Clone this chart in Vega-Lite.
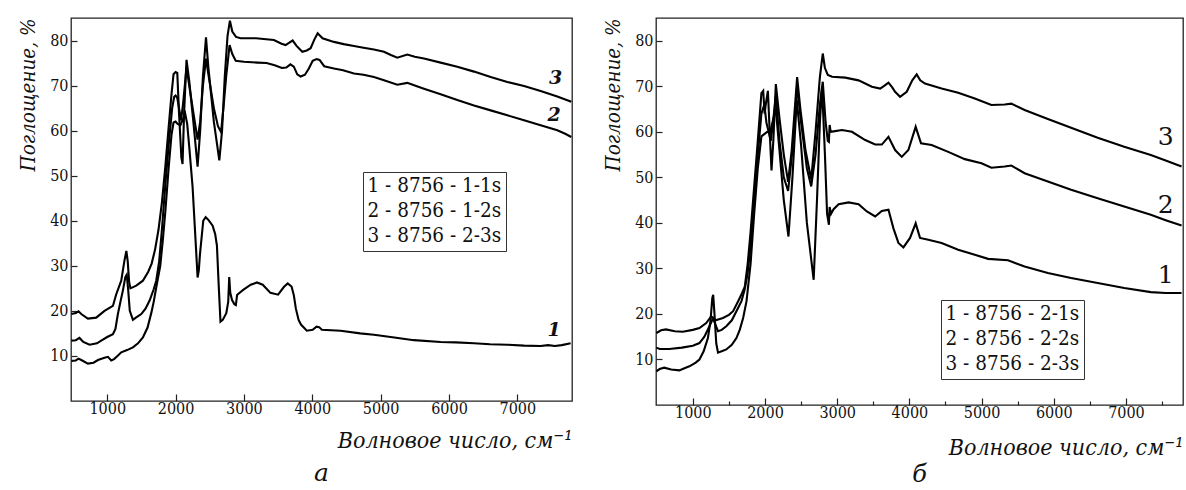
{
  "$schema": "https://vega.github.io/schema/vega-lite/v6.json",
  "background": "white",
  "padding": {"left": 18, "top": 17, "right": 0, "bottom": 0},
  "spacing": 30,
  "resolve": {"scale": {"color": "independent"}, "legend": {"color": "independent"}},
  "config": {
    "font": "DejaVu Serif Condensed",
    "view": {"stroke": "#222", "strokeWidth": 1.3},
    "axis": {"labelFont": "DejaVu Serif Condensed", "labelFontSize": 16, "labelColor": "#111", "titleFont": "DejaVu Serif Condensed", "titleFontSize": 23, "titleFontStyle": "italic", "titleFontWeight": "normal", "titleColor": "#111", "grid": false, "domain": false, "tickColor": "#222", "tickWidth": 1.2, "labelOverlap": false},
    "legend": {"labelFont": "DejaVu Serif Condensed", "labelFontSize": 20.5, "labelColor": "#111", "symbolType": "circle", "symbolSize": 0, "symbolOpacity": 0, "symbolStrokeWidth": 0, "labelOffset": -20, "padding": 4, "rowPadding": 4, "strokeColor": "#333", "fillColor": "white", "labelLimit": 0, "title": null}
  },
  "datasets": {
    "a": [
      {"x":475,"y":8.9,"s":"1 - 8756 - 1-1s"},{"x":540,"y":9.0,"s":"1 - 8756 - 1-1s"},{"x":580,"y":9.4,"s":"1 - 8756 - 1-1s"},{"x":620,"y":9.1,"s":"1 - 8756 - 1-1s"},{"x":717,"y":8.3,"s":"1 - 8756 - 1-1s"},{"x":800,"y":8.5,"s":"1 - 8756 - 1-1s"},{"x":864,"y":9.1,"s":"1 - 8756 - 1-1s"},{"x":960,"y":9.6,"s":"1 - 8756 - 1-1s"},{"x":1010,"y":9.8,"s":"1 - 8756 - 1-1s"},{"x":1059,"y":9.0,"s":"1 - 8756 - 1-1s"},{"x":1100,"y":9.3,"s":"1 - 8756 - 1-1s"},{"x":1150,"y":10.0,"s":"1 - 8756 - 1-1s"},{"x":1205,"y":10.8,"s":"1 - 8756 - 1-1s"},{"x":1290,"y":11.3,"s":"1 - 8756 - 1-1s"},{"x":1376,"y":11.9,"s":"1 - 8756 - 1-1s"},{"x":1450,"y":12.8,"s":"1 - 8756 - 1-1s"},{"x":1522,"y":14.1,"s":"1 - 8756 - 1-1s"},{"x":1590,"y":16.3,"s":"1 - 8756 - 1-1s"},{"x":1644,"y":19.5,"s":"1 - 8756 - 1-1s"},{"x":1680,"y":22,"s":"1 - 8756 - 1-1s"},{"x":1717,"y":25.2,"s":"1 - 8756 - 1-1s"},{"x":1776,"y":30,"s":"1 - 8756 - 1-1s"},{"x":1815,"y":36,"s":"1 - 8756 - 1-1s"},{"x":1850,"y":42,"s":"1 - 8756 - 1-1s"},{"x":1900,"y":52,"s":"1 - 8756 - 1-1s"},{"x":1940,"y":59,"s":"1 - 8756 - 1-1s"},{"x":1970,"y":61.8,"s":"1 - 8756 - 1-1s"},{"x":2000,"y":62,"s":"1 - 8756 - 1-1s"},{"x":2030,"y":61.5,"s":"1 - 8756 - 1-1s"},{"x":2070,"y":61.2,"s":"1 - 8756 - 1-1s"},{"x":2100,"y":62.3,"s":"1 - 8756 - 1-1s"},{"x":2140,"y":63.8,"s":"1 - 8756 - 1-1s"},{"x":2170,"y":61.5,"s":"1 - 8756 - 1-1s"},{"x":2200,"y":56.4,"s":"1 - 8756 - 1-1s"},{"x":2249,"y":47.5,"s":"1 - 8756 - 1-1s"},{"x":2298,"y":34.1,"s":"1 - 8756 - 1-1s"},{"x":2322,"y":27.4,"s":"1 - 8756 - 1-1s"},{"x":2340,"y":29,"s":"1 - 8756 - 1-1s"},{"x":2357,"y":32.6,"s":"1 - 8756 - 1-1s"},{"x":2405,"y":40,"s":"1 - 8756 - 1-1s"},{"x":2440,"y":40.8,"s":"1 - 8756 - 1-1s"},{"x":2480,"y":40.2,"s":"1 - 8756 - 1-1s"},{"x":2542,"y":38.9,"s":"1 - 8756 - 1-1s"},{"x":2580,"y":37,"s":"1 - 8756 - 1-1s"},{"x":2605,"y":34.5,"s":"1 - 8756 - 1-1s"},{"x":2630,"y":26,"s":"1 - 8756 - 1-1s"},{"x":2657,"y":17.6,"s":"1 - 8756 - 1-1s"},{"x":2690,"y":18,"s":"1 - 8756 - 1-1s"},{"x":2742,"y":19.5,"s":"1 - 8756 - 1-1s"},{"x":2770,"y":22,"s":"1 - 8756 - 1-1s"},{"x":2785,"y":27.5,"s":"1 - 8756 - 1-1s"},{"x":2800,"y":24,"s":"1 - 8756 - 1-1s"},{"x":2826,"y":22.4,"s":"1 - 8756 - 1-1s"},{"x":2860,"y":21.5,"s":"1 - 8756 - 1-1s"},{"x":2882,"y":21.3,"s":"1 - 8756 - 1-1s"},{"x":2900,"y":23.5,"s":"1 - 8756 - 1-1s"},{"x":2920,"y":23.8,"s":"1 - 8756 - 1-1s"},{"x":2994,"y":24.7,"s":"1 - 8756 - 1-1s"},{"x":3100,"y":25.8,"s":"1 - 8756 - 1-1s"},{"x":3190,"y":26.3,"s":"1 - 8756 - 1-1s"},{"x":3275,"y":25.8,"s":"1 - 8756 - 1-1s"},{"x":3388,"y":24,"s":"1 - 8756 - 1-1s"},{"x":3500,"y":23.6,"s":"1 - 8756 - 1-1s"},{"x":3584,"y":25.3,"s":"1 - 8756 - 1-1s"},{"x":3640,"y":26.1,"s":"1 - 8756 - 1-1s"},{"x":3697,"y":25.4,"s":"1 - 8756 - 1-1s"},{"x":3730,"y":23.5,"s":"1 - 8756 - 1-1s"},{"x":3760,"y":20.5,"s":"1 - 8756 - 1-1s"},{"x":3800,"y":18,"s":"1 - 8756 - 1-1s"},{"x":3837,"y":16.9,"s":"1 - 8756 - 1-1s"},{"x":3921,"y":15.6,"s":"1 - 8756 - 1-1s"},{"x":4006,"y":15.8,"s":"1 - 8756 - 1-1s"},{"x":4062,"y":16.5,"s":"1 - 8756 - 1-1s"},{"x":4100,"y":16.4,"s":"1 - 8756 - 1-1s"},{"x":4140,"y":15.8,"s":"1 - 8756 - 1-1s"},{"x":4415,"y":15.6,"s":"1 - 8756 - 1-1s"},{"x":4700,"y":15.0,"s":"1 - 8756 - 1-1s"},{"x":4902,"y":14.7,"s":"1 - 8756 - 1-1s"},{"x":5200,"y":14.1,"s":"1 - 8756 - 1-1s"},{"x":5488,"y":13.5,"s":"1 - 8756 - 1-1s"},{"x":5878,"y":13.1,"s":"1 - 8756 - 1-1s"},{"x":6100,"y":13.0,"s":"1 - 8756 - 1-1s"},{"x":6366,"y":12.8,"s":"1 - 8756 - 1-1s"},{"x":6600,"y":12.6,"s":"1 - 8756 - 1-1s"},{"x":6854,"y":12.5,"s":"1 - 8756 - 1-1s"},{"x":7100,"y":12.3,"s":"1 - 8756 - 1-1s"},{"x":7341,"y":12.2,"s":"1 - 8756 - 1-1s"},{"x":7450,"y":12.4,"s":"1 - 8756 - 1-1s"},{"x":7550,"y":12.2,"s":"1 - 8756 - 1-1s"},{"x":7650,"y":12.4,"s":"1 - 8756 - 1-1s"},{"x":7780,"y":12.8,"s":"1 - 8756 - 1-1s"},

      {"x":475,"y":13.4,"s":"2 - 8756 - 1-2s"},{"x":540,"y":13.5,"s":"2 - 8756 - 1-2s"},{"x":594,"y":14.0,"s":"2 - 8756 - 1-2s"},{"x":650,"y":13.1,"s":"2 - 8756 - 1-2s"},{"x":741,"y":12.5,"s":"2 - 8756 - 1-2s"},{"x":850,"y":12.8,"s":"2 - 8756 - 1-2s"},{"x":912,"y":13.4,"s":"2 - 8756 - 1-2s"},{"x":1000,"y":14.2,"s":"2 - 8756 - 1-2s"},{"x":1083,"y":14.8,"s":"2 - 8756 - 1-2s"},{"x":1120,"y":16,"s":"2 - 8756 - 1-2s"},{"x":1156,"y":19.3,"s":"2 - 8756 - 1-2s"},{"x":1200,"y":22.5,"s":"2 - 8756 - 1-2s"},{"x":1229,"y":24.5,"s":"2 - 8756 - 1-2s"},{"x":1265,"y":27.5,"s":"2 - 8756 - 1-2s"},{"x":1285,"y":28,"s":"2 - 8756 - 1-2s"},{"x":1305,"y":25,"s":"2 - 8756 - 1-2s"},{"x":1330,"y":20,"s":"2 - 8756 - 1-2s"},{"x":1376,"y":18,"s":"2 - 8756 - 1-2s"},{"x":1430,"y":18.6,"s":"2 - 8756 - 1-2s"},{"x":1498,"y":19.3,"s":"2 - 8756 - 1-2s"},{"x":1560,"y":20.5,"s":"2 - 8756 - 1-2s"},{"x":1620,"y":22.3,"s":"2 - 8756 - 1-2s"},{"x":1680,"y":24.8,"s":"2 - 8756 - 1-2s"},{"x":1717,"y":26.7,"s":"2 - 8756 - 1-2s"},{"x":1760,"y":31,"s":"2 - 8756 - 1-2s"},{"x":1800,"y":38,"s":"2 - 8756 - 1-2s"},{"x":1850,"y":48,"s":"2 - 8756 - 1-2s"},{"x":1900,"y":57,"s":"2 - 8756 - 1-2s"},{"x":1950,"y":65,"s":"2 - 8756 - 1-2s"},{"x":1980,"y":67.5,"s":"2 - 8756 - 1-2s"},{"x":2000,"y":67.8,"s":"2 - 8756 - 1-2s"},{"x":2025,"y":67.3,"s":"2 - 8756 - 1-2s"},{"x":2050,"y":65,"s":"2 - 8756 - 1-2s"},{"x":2080,"y":62.3,"s":"2 - 8756 - 1-2s"},{"x":2110,"y":66,"s":"2 - 8756 - 1-2s"},{"x":2160,"y":74,"s":"2 - 8756 - 1-2s"},{"x":2200,"y":70,"s":"2 - 8756 - 1-2s"},{"x":2260,"y":64,"s":"2 - 8756 - 1-2s"},{"x":2322,"y":58,"s":"2 - 8756 - 1-2s"},{"x":2360,"y":62,"s":"2 - 8756 - 1-2s"},{"x":2400,"y":70,"s":"2 - 8756 - 1-2s"},{"x":2445,"y":76,"s":"2 - 8756 - 1-2s"},{"x":2480,"y":72.5,"s":"2 - 8756 - 1-2s"},{"x":2560,"y":65,"s":"2 - 8756 - 1-2s"},{"x":2620,"y":61,"s":"2 - 8756 - 1-2s"},{"x":2665,"y":59.7,"s":"2 - 8756 - 1-2s"},{"x":2700,"y":65,"s":"2 - 8756 - 1-2s"},{"x":2740,"y":72,"s":"2 - 8756 - 1-2s"},{"x":2790,"y":79,"s":"2 - 8756 - 1-2s"},{"x":2830,"y":77,"s":"2 - 8756 - 1-2s"},{"x":2880,"y":75.5,"s":"2 - 8756 - 1-2s"},{"x":3000,"y":75.3,"s":"2 - 8756 - 1-2s"},{"x":3200,"y":75.1,"s":"2 - 8756 - 1-2s"},{"x":3331,"y":75,"s":"2 - 8756 - 1-2s"},{"x":3450,"y":74.5,"s":"2 - 8756 - 1-2s"},{"x":3556,"y":73.9,"s":"2 - 8756 - 1-2s"},{"x":3620,"y":74.0,"s":"2 - 8756 - 1-2s"},{"x":3680,"y":74.7,"s":"2 - 8756 - 1-2s"},{"x":3730,"y":74.2,"s":"2 - 8756 - 1-2s"},{"x":3780,"y":72.5,"s":"2 - 8756 - 1-2s"},{"x":3830,"y":72,"s":"2 - 8756 - 1-2s"},{"x":3893,"y":72.4,"s":"2 - 8756 - 1-2s"},{"x":3950,"y":73.8,"s":"2 - 8756 - 1-2s"},{"x":4006,"y":75.5,"s":"2 - 8756 - 1-2s"},{"x":4062,"y":75.9,"s":"2 - 8756 - 1-2s"},{"x":4107,"y":75.7,"s":"2 - 8756 - 1-2s"},{"x":4174,"y":74.3,"s":"2 - 8756 - 1-2s"},{"x":4317,"y":73.8,"s":"2 - 8756 - 1-2s"},{"x":4450,"y":73.4,"s":"2 - 8756 - 1-2s"},{"x":4610,"y":72.7,"s":"2 - 8756 - 1-2s"},{"x":4750,"y":72.4,"s":"2 - 8756 - 1-2s"},{"x":4902,"y":71.9,"s":"2 - 8756 - 1-2s"},{"x":5049,"y":71.2,"s":"2 - 8756 - 1-2s"},{"x":5244,"y":70.2,"s":"2 - 8756 - 1-2s"},{"x":5390,"y":70.6,"s":"2 - 8756 - 1-2s"},{"x":5500,"y":70,"s":"2 - 8756 - 1-2s"},{"x":5634,"y":69.3,"s":"2 - 8756 - 1-2s"},{"x":5878,"y":68.1,"s":"2 - 8756 - 1-2s"},{"x":6122,"y":66.8,"s":"2 - 8756 - 1-2s"},{"x":6366,"y":65.6,"s":"2 - 8756 - 1-2s"},{"x":6610,"y":64.5,"s":"2 - 8756 - 1-2s"},{"x":6854,"y":63.4,"s":"2 - 8756 - 1-2s"},{"x":7098,"y":62.3,"s":"2 - 8756 - 1-2s"},{"x":7341,"y":61.2,"s":"2 - 8756 - 1-2s"},{"x":7585,"y":60.1,"s":"2 - 8756 - 1-2s"},{"x":7700,"y":59.3,"s":"2 - 8756 - 1-2s"},{"x":7790,"y":58.6,"s":"2 - 8756 - 1-2s"},

      {"x":475,"y":19.3,"s":"3 - 8756 - 2-3s"},{"x":540,"y":19.5,"s":"3 - 8756 - 2-3s"},{"x":580,"y":19.9,"s":"3 - 8756 - 2-3s"},{"x":620,"y":19.3,"s":"3 - 8756 - 2-3s"},{"x":717,"y":18.3,"s":"3 - 8756 - 2-3s"},{"x":839,"y":18.5,"s":"3 - 8756 - 2-3s"},{"x":960,"y":20,"s":"3 - 8756 - 2-3s"},{"x":1083,"y":21.1,"s":"3 - 8756 - 2-3s"},{"x":1132,"y":23.7,"s":"3 - 8756 - 2-3s"},{"x":1205,"y":26.7,"s":"3 - 8756 - 2-3s"},{"x":1250,"y":31,"s":"3 - 8756 - 2-3s"},{"x":1280,"y":33.3,"s":"3 - 8756 - 2-3s"},{"x":1300,"y":31,"s":"3 - 8756 - 2-3s"},{"x":1320,"y":26.5,"s":"3 - 8756 - 2-3s"},{"x":1340,"y":25,"s":"3 - 8756 - 2-3s"},{"x":1425,"y":25.6,"s":"3 - 8756 - 2-3s"},{"x":1522,"y":26.7,"s":"3 - 8756 - 2-3s"},{"x":1600,"y":28.7,"s":"3 - 8756 - 2-3s"},{"x":1650,"y":30.5,"s":"3 - 8756 - 2-3s"},{"x":1700,"y":33.6,"s":"3 - 8756 - 2-3s"},{"x":1750,"y":38,"s":"3 - 8756 - 2-3s"},{"x":1800,"y":44,"s":"3 - 8756 - 2-3s"},{"x":1850,"y":52,"s":"3 - 8756 - 2-3s"},{"x":1900,"y":61,"s":"3 - 8756 - 2-3s"},{"x":1940,"y":68,"s":"3 - 8756 - 2-3s"},{"x":1970,"y":72.5,"s":"3 - 8756 - 2-3s"},{"x":2000,"y":73,"s":"3 - 8756 - 2-3s"},{"x":2025,"y":72.8,"s":"3 - 8756 - 2-3s"},{"x":2050,"y":64,"s":"3 - 8756 - 2-3s"},{"x":2085,"y":54,"s":"3 - 8756 - 2-3s"},{"x":2102,"y":52.6,"s":"3 - 8756 - 2-3s"},{"x":2125,"y":64,"s":"3 - 8756 - 2-3s"},{"x":2160,"y":75.7,"s":"3 - 8756 - 2-3s"},{"x":2200,"y":71,"s":"3 - 8756 - 2-3s"},{"x":2260,"y":62,"s":"3 - 8756 - 2-3s"},{"x":2322,"y":52,"s":"3 - 8756 - 2-3s"},{"x":2360,"y":60,"s":"3 - 8756 - 2-3s"},{"x":2400,"y":72,"s":"3 - 8756 - 2-3s"},{"x":2445,"y":80.7,"s":"3 - 8756 - 2-3s"},{"x":2480,"y":74,"s":"3 - 8756 - 2-3s"},{"x":2560,"y":62,"s":"3 - 8756 - 2-3s"},{"x":2640,"y":53.4,"s":"3 - 8756 - 2-3s"},{"x":2680,"y":60,"s":"3 - 8756 - 2-3s"},{"x":2720,"y":72,"s":"3 - 8756 - 2-3s"},{"x":2760,"y":81,"s":"3 - 8756 - 2-3s"},{"x":2795,"y":84.4,"s":"3 - 8756 - 2-3s"},{"x":2830,"y":82,"s":"3 - 8756 - 2-3s"},{"x":2884,"y":80.8,"s":"3 - 8756 - 2-3s"},{"x":2951,"y":80.5,"s":"3 - 8756 - 2-3s"},{"x":3177,"y":80.5,"s":"3 - 8756 - 2-3s"},{"x":3439,"y":80.1,"s":"3 - 8756 - 2-3s"},{"x":3550,"y":79.3,"s":"3 - 8756 - 2-3s"},{"x":3610,"y":79,"s":"3 - 8756 - 2-3s"},{"x":3670,"y":79.6,"s":"3 - 8756 - 2-3s"},{"x":3713,"y":80,"s":"3 - 8756 - 2-3s"},{"x":3770,"y":78.8,"s":"3 - 8756 - 2-3s"},{"x":3854,"y":77.5,"s":"3 - 8756 - 2-3s"},{"x":3920,"y":77.8,"s":"3 - 8756 - 2-3s"},{"x":3976,"y":78.3,"s":"3 - 8756 - 2-3s"},{"x":4030,"y":80.2,"s":"3 - 8756 - 2-3s"},{"x":4079,"y":81.6,"s":"3 - 8756 - 2-3s"},{"x":4150,"y":80.5,"s":"3 - 8756 - 2-3s"},{"x":4317,"y":79.7,"s":"3 - 8756 - 2-3s"},{"x":4460,"y":79.2,"s":"3 - 8756 - 2-3s"},{"x":4610,"y":78.8,"s":"3 - 8756 - 2-3s"},{"x":4750,"y":78.4,"s":"3 - 8756 - 2-3s"},{"x":4902,"y":78,"s":"3 - 8756 - 2-3s"},{"x":5049,"y":77.5,"s":"3 - 8756 - 2-3s"},{"x":5150,"y":76.8,"s":"3 - 8756 - 2-3s"},{"x":5244,"y":76.2,"s":"3 - 8756 - 2-3s"},{"x":5390,"y":76.9,"s":"3 - 8756 - 2-3s"},{"x":5500,"y":76.4,"s":"3 - 8756 - 2-3s"},{"x":5634,"y":76,"s":"3 - 8756 - 2-3s"},{"x":5878,"y":75.1,"s":"3 - 8756 - 2-3s"},{"x":6122,"y":74.2,"s":"3 - 8756 - 2-3s"},{"x":6366,"y":73.1,"s":"3 - 8756 - 2-3s"},{"x":6610,"y":71.9,"s":"3 - 8756 - 2-3s"},{"x":6854,"y":70.8,"s":"3 - 8756 - 2-3s"},{"x":7098,"y":69.9,"s":"3 - 8756 - 2-3s"},{"x":7341,"y":68.8,"s":"3 - 8756 - 2-3s"},{"x":7585,"y":67.6,"s":"3 - 8756 - 2-3s"},{"x":7790,"y":66.4,"s":"3 - 8756 - 2-3s"}
    ],
    "b": [
      {"x":495,"y":7.4,"s":"1 - 8756 - 2-1s"},{"x":540,"y":7.9,"s":"1 - 8756 - 2-1s"},{"x":604,"y":8.2,"s":"1 - 8756 - 2-1s"},{"x":700,"y":7.8,"s":"1 - 8756 - 2-1s"},{"x":813,"y":7.6,"s":"1 - 8756 - 2-1s"},{"x":900,"y":8.2,"s":"1 - 8756 - 2-1s"},{"x":953,"y":8.5,"s":"1 - 8756 - 2-1s"},{"x":1040,"y":9.3,"s":"1 - 8756 - 2-1s"},{"x":1092,"y":10,"s":"1 - 8756 - 2-1s"},{"x":1150,"y":11.8,"s":"1 - 8756 - 2-1s"},{"x":1209,"y":14.7,"s":"1 - 8756 - 2-1s"},{"x":1245,"y":18.5,"s":"1 - 8756 - 2-1s"},{"x":1270,"y":23.5,"s":"1 - 8756 - 2-1s"},{"x":1282,"y":24.2,"s":"1 - 8756 - 2-1s"},{"x":1300,"y":20,"s":"1 - 8756 - 2-1s"},{"x":1325,"y":13.5,"s":"1 - 8756 - 2-1s"},{"x":1349,"y":11.5,"s":"1 - 8756 - 2-1s"},{"x":1400,"y":11.8,"s":"1 - 8756 - 2-1s"},{"x":1464,"y":12.2,"s":"1 - 8756 - 2-1s"},{"x":1540,"y":13.2,"s":"1 - 8756 - 2-1s"},{"x":1604,"y":14.7,"s":"1 - 8756 - 2-1s"},{"x":1650,"y":16.5,"s":"1 - 8756 - 2-1s"},{"x":1697,"y":19.1,"s":"1 - 8756 - 2-1s"},{"x":1744,"y":22.8,"s":"1 - 8756 - 2-1s"},{"x":1800,"y":31,"s":"1 - 8756 - 2-1s"},{"x":1850,"y":42,"s":"1 - 8756 - 2-1s"},{"x":1900,"y":52,"s":"1 - 8756 - 2-1s"},{"x":1950,"y":59,"s":"1 - 8756 - 2-1s"},{"x":1990,"y":59.5,"s":"1 - 8756 - 2-1s"},{"x":2030,"y":60,"s":"1 - 8756 - 2-1s"},{"x":2070,"y":59.8,"s":"1 - 8756 - 2-1s"},{"x":2110,"y":62.5,"s":"1 - 8756 - 2-1s"},{"x":2150,"y":65,"s":"1 - 8756 - 2-1s"},{"x":2200,"y":56,"s":"1 - 8756 - 2-1s"},{"x":2260,"y":45,"s":"1 - 8756 - 2-1s"},{"x":2325,"y":37,"s":"1 - 8756 - 2-1s"},{"x":2380,"y":50,"s":"1 - 8756 - 2-1s"},{"x":2440,"y":67,"s":"1 - 8756 - 2-1s"},{"x":2500,"y":57,"s":"1 - 8756 - 2-1s"},{"x":2580,"y":40,"s":"1 - 8756 - 2-1s"},{"x":2674,"y":27.5,"s":"1 - 8756 - 2-1s"},{"x":2720,"y":45,"s":"1 - 8756 - 2-1s"},{"x":2760,"y":62,"s":"1 - 8756 - 2-1s"},{"x":2790,"y":70,"s":"1 - 8756 - 2-1s"},{"x":2830,"y":55,"s":"1 - 8756 - 2-1s"},{"x":2860,"y":42,"s":"1 - 8756 - 2-1s"},{"x":2885,"y":39.6,"s":"1 - 8756 - 2-1s"},{"x":2895,"y":43.5,"s":"1 - 8756 - 2-1s"},{"x":2915,"y":42,"s":"1 - 8756 - 2-1s"},{"x":2950,"y":43,"s":"1 - 8756 - 2-1s"},{"x":3020,"y":44.1,"s":"1 - 8756 - 2-1s"},{"x":3158,"y":44.5,"s":"1 - 8756 - 2-1s"},{"x":3296,"y":44.1,"s":"1 - 8756 - 2-1s"},{"x":3411,"y":42.5,"s":"1 - 8756 - 2-1s"},{"x":3526,"y":41.4,"s":"1 - 8756 - 2-1s"},{"x":3618,"y":42.6,"s":"1 - 8756 - 2-1s"},{"x":3710,"y":42.9,"s":"1 - 8756 - 2-1s"},{"x":3779,"y":38.8,"s":"1 - 8756 - 2-1s"},{"x":3848,"y":35.6,"s":"1 - 8756 - 2-1s"},{"x":3917,"y":34.6,"s":"1 - 8756 - 2-1s"},{"x":4009,"y":36.7,"s":"1 - 8756 - 2-1s"},{"x":4087,"y":39.9,"s":"1 - 8756 - 2-1s"},{"x":4147,"y":36.7,"s":"1 - 8756 - 2-1s"},{"x":4262,"y":36.3,"s":"1 - 8756 - 2-1s"},{"x":4446,"y":35.6,"s":"1 - 8756 - 2-1s"},{"x":4676,"y":34.1,"s":"1 - 8756 - 2-1s"},{"x":4906,"y":33,"s":"1 - 8756 - 2-1s"},{"x":5090,"y":32.1,"s":"1 - 8756 - 2-1s"},{"x":5366,"y":31.8,"s":"1 - 8756 - 2-1s"},{"x":5596,"y":30.4,"s":"1 - 8756 - 2-1s"},{"x":5918,"y":29,"s":"1 - 8756 - 2-1s"},{"x":6240,"y":27.9,"s":"1 - 8756 - 2-1s"},{"x":6608,"y":26.8,"s":"1 - 8756 - 2-1s"},{"x":6976,"y":25.7,"s":"1 - 8756 - 2-1s"},{"x":7344,"y":24.8,"s":"1 - 8756 - 2-1s"},{"x":7550,"y":24.6,"s":"1 - 8756 - 2-1s"},{"x":7770,"y":24.6,"s":"1 - 8756 - 2-1s"},

      {"x":495,"y":12.6,"s":"2 - 8756 - 2-2s"},{"x":540,"y":12.3,"s":"2 - 8756 - 2-2s"},{"x":674,"y":12.3,"s":"2 - 8756 - 2-2s"},{"x":849,"y":12.6,"s":"2 - 8756 - 2-2s"},{"x":1000,"y":13,"s":"2 - 8756 - 2-2s"},{"x":1092,"y":13.6,"s":"2 - 8756 - 2-2s"},{"x":1160,"y":15,"s":"2 - 8756 - 2-2s"},{"x":1209,"y":16.6,"s":"2 - 8756 - 2-2s"},{"x":1250,"y":18,"s":"2 - 8756 - 2-2s"},{"x":1279,"y":19,"s":"2 - 8756 - 2-2s"},{"x":1300,"y":18.2,"s":"2 - 8756 - 2-2s"},{"x":1349,"y":16.2,"s":"2 - 8756 - 2-2s"},{"x":1400,"y":16.5,"s":"2 - 8756 - 2-2s"},{"x":1464,"y":17.3,"s":"2 - 8756 - 2-2s"},{"x":1540,"y":18.6,"s":"2 - 8756 - 2-2s"},{"x":1604,"y":20.6,"s":"2 - 8756 - 2-2s"},{"x":1674,"y":22.8,"s":"2 - 8756 - 2-2s"},{"x":1720,"y":25.5,"s":"2 - 8756 - 2-2s"},{"x":1760,"y":29,"s":"2 - 8756 - 2-2s"},{"x":1800,"y":35,"s":"2 - 8756 - 2-2s"},{"x":1850,"y":45,"s":"2 - 8756 - 2-2s"},{"x":1900,"y":55,"s":"2 - 8756 - 2-2s"},{"x":1950,"y":64,"s":"2 - 8756 - 2-2s"},{"x":1990,"y":66,"s":"2 - 8756 - 2-2s"},{"x":2020,"y":62,"s":"2 - 8756 - 2-2s"},{"x":2050,"y":60,"s":"2 - 8756 - 2-2s"},{"x":2080,"y":58,"s":"2 - 8756 - 2-2s"},{"x":2110,"y":62,"s":"2 - 8756 - 2-2s"},{"x":2150,"y":68,"s":"2 - 8756 - 2-2s"},{"x":2200,"y":58,"s":"2 - 8756 - 2-2s"},{"x":2260,"y":50,"s":"2 - 8756 - 2-2s"},{"x":2320,"y":47,"s":"2 - 8756 - 2-2s"},{"x":2380,"y":56,"s":"2 - 8756 - 2-2s"},{"x":2445,"y":70,"s":"2 - 8756 - 2-2s"},{"x":2500,"y":62,"s":"2 - 8756 - 2-2s"},{"x":2580,"y":52,"s":"2 - 8756 - 2-2s"},{"x":2640,"y":48,"s":"2 - 8756 - 2-2s"},{"x":2700,"y":55,"s":"2 - 8756 - 2-2s"},{"x":2760,"y":66,"s":"2 - 8756 - 2-2s"},{"x":2800,"y":71,"s":"2 - 8756 - 2-2s"},{"x":2840,"y":62,"s":"2 - 8756 - 2-2s"},{"x":2870,"y":58,"s":"2 - 8756 - 2-2s"},{"x":2885,"y":57.8,"s":"2 - 8756 - 2-2s"},{"x":2895,"y":61.5,"s":"2 - 8756 - 2-2s"},{"x":2910,"y":60,"s":"2 - 8756 - 2-2s"},{"x":2950,"y":60.1,"s":"2 - 8756 - 2-2s"},{"x":3066,"y":60.4,"s":"2 - 8756 - 2-2s"},{"x":3204,"y":60,"s":"2 - 8756 - 2-2s"},{"x":3388,"y":58.2,"s":"2 - 8756 - 2-2s"},{"x":3526,"y":57.2,"s":"2 - 8756 - 2-2s"},{"x":3618,"y":57.2,"s":"2 - 8756 - 2-2s"},{"x":3710,"y":58.9,"s":"2 - 8756 - 2-2s"},{"x":3802,"y":56,"s":"2 - 8756 - 2-2s"},{"x":3894,"y":54.5,"s":"2 - 8756 - 2-2s"},{"x":3986,"y":56,"s":"2 - 8756 - 2-2s"},{"x":4087,"y":61.1,"s":"2 - 8756 - 2-2s"},{"x":4161,"y":57.5,"s":"2 - 8756 - 2-2s"},{"x":4308,"y":57.1,"s":"2 - 8756 - 2-2s"},{"x":4538,"y":55.6,"s":"2 - 8756 - 2-2s"},{"x":4768,"y":54,"s":"2 - 8756 - 2-2s"},{"x":4998,"y":53.1,"s":"2 - 8756 - 2-2s"},{"x":5136,"y":52.1,"s":"2 - 8756 - 2-2s"},{"x":5320,"y":52.4,"s":"2 - 8756 - 2-2s"},{"x":5412,"y":52.6,"s":"2 - 8756 - 2-2s"},{"x":5596,"y":50.9,"s":"2 - 8756 - 2-2s"},{"x":5918,"y":49.1,"s":"2 - 8756 - 2-2s"},{"x":6240,"y":47.3,"s":"2 - 8756 - 2-2s"},{"x":6608,"y":45.4,"s":"2 - 8756 - 2-2s"},{"x":6976,"y":43.6,"s":"2 - 8756 - 2-2s"},{"x":7344,"y":41.8,"s":"2 - 8756 - 2-2s"},{"x":7550,"y":40.6,"s":"2 - 8756 - 2-2s"},{"x":7770,"y":39.4,"s":"2 - 8756 - 2-2s"},

      {"x":495,"y":15.8,"s":"3 - 8756 - 2-3s"},{"x":560,"y":16.4,"s":"3 - 8756 - 2-3s"},{"x":628,"y":16.6,"s":"3 - 8756 - 2-3s"},{"x":750,"y":16.2,"s":"3 - 8756 - 2-3s"},{"x":861,"y":16.1,"s":"3 - 8756 - 2-3s"},{"x":1000,"y":16.5,"s":"3 - 8756 - 2-3s"},{"x":1092,"y":16.9,"s":"3 - 8756 - 2-3s"},{"x":1186,"y":18,"s":"3 - 8756 - 2-3s"},{"x":1255,"y":19.5,"s":"3 - 8756 - 2-3s"},{"x":1315,"y":18.6,"s":"3 - 8756 - 2-3s"},{"x":1418,"y":19.1,"s":"3 - 8756 - 2-3s"},{"x":1500,"y":19.8,"s":"3 - 8756 - 2-3s"},{"x":1558,"y":20.6,"s":"3 - 8756 - 2-3s"},{"x":1628,"y":22.8,"s":"3 - 8756 - 2-3s"},{"x":1680,"y":24.5,"s":"3 - 8756 - 2-3s"},{"x":1720,"y":26,"s":"3 - 8756 - 2-3s"},{"x":1760,"y":31,"s":"3 - 8756 - 2-3s"},{"x":1800,"y":38,"s":"3 - 8756 - 2-3s"},{"x":1850,"y":48,"s":"3 - 8756 - 2-3s"},{"x":1900,"y":58,"s":"3 - 8756 - 2-3s"},{"x":1950,"y":68.5,"s":"3 - 8756 - 2-3s"},{"x":1975,"y":69,"s":"3 - 8756 - 2-3s"},{"x":1995,"y":64,"s":"3 - 8756 - 2-3s"},{"x":2010,"y":66,"s":"3 - 8756 - 2-3s"},{"x":2040,"y":69,"s":"3 - 8756 - 2-3s"},{"x":2065,"y":60,"s":"3 - 8756 - 2-3s"},{"x":2090,"y":51.5,"s":"3 - 8756 - 2-3s"},{"x":2115,"y":58,"s":"3 - 8756 - 2-3s"},{"x":2150,"y":70.5,"s":"3 - 8756 - 2-3s"},{"x":2200,"y":63,"s":"3 - 8756 - 2-3s"},{"x":2260,"y":55,"s":"3 - 8756 - 2-3s"},{"x":2320,"y":49,"s":"3 - 8756 - 2-3s"},{"x":2370,"y":56,"s":"3 - 8756 - 2-3s"},{"x":2445,"y":72,"s":"3 - 8756 - 2-3s"},{"x":2490,"y":65,"s":"3 - 8756 - 2-3s"},{"x":2560,"y":56,"s":"3 - 8756 - 2-3s"},{"x":2640,"y":49.5,"s":"3 - 8756 - 2-3s"},{"x":2700,"y":60,"s":"3 - 8756 - 2-3s"},{"x":2760,"y":72,"s":"3 - 8756 - 2-3s"},{"x":2800,"y":77.2,"s":"3 - 8756 - 2-3s"},{"x":2830,"y":74,"s":"3 - 8756 - 2-3s"},{"x":2870,"y":72.5,"s":"3 - 8756 - 2-3s"},{"x":2929,"y":72.1,"s":"3 - 8756 - 2-3s"},{"x":3112,"y":71.9,"s":"3 - 8756 - 2-3s"},{"x":3296,"y":71.3,"s":"3 - 8756 - 2-3s"},{"x":3480,"y":69.9,"s":"3 - 8756 - 2-3s"},{"x":3595,"y":69.5,"s":"3 - 8756 - 2-3s"},{"x":3660,"y":70.2,"s":"3 - 8756 - 2-3s"},{"x":3710,"y":70.8,"s":"3 - 8756 - 2-3s"},{"x":3760,"y":69.8,"s":"3 - 8756 - 2-3s"},{"x":3802,"y":68.8,"s":"3 - 8756 - 2-3s"},{"x":3871,"y":67.7,"s":"3 - 8756 - 2-3s"},{"x":3963,"y":68.8,"s":"3 - 8756 - 2-3s"},{"x":4040,"y":71.3,"s":"3 - 8756 - 2-3s"},{"x":4101,"y":72.6,"s":"3 - 8756 - 2-3s"},{"x":4150,"y":71.3,"s":"3 - 8756 - 2-3s"},{"x":4216,"y":70.6,"s":"3 - 8756 - 2-3s"},{"x":4446,"y":69.5,"s":"3 - 8756 - 2-3s"},{"x":4676,"y":68.6,"s":"3 - 8756 - 2-3s"},{"x":4906,"y":67.3,"s":"3 - 8756 - 2-3s"},{"x":5136,"y":65.9,"s":"3 - 8756 - 2-3s"},{"x":5320,"y":66,"s":"3 - 8756 - 2-3s"},{"x":5412,"y":66.2,"s":"3 - 8756 - 2-3s"},{"x":5596,"y":64.8,"s":"3 - 8756 - 2-3s"},{"x":5918,"y":62.8,"s":"3 - 8756 - 2-3s"},{"x":6240,"y":60.9,"s":"3 - 8756 - 2-3s"},{"x":6608,"y":58.7,"s":"3 - 8756 - 2-3s"},{"x":6976,"y":56.7,"s":"3 - 8756 - 2-3s"},{"x":7344,"y":54.9,"s":"3 - 8756 - 2-3s"},{"x":7550,"y":53.7,"s":"3 - 8756 - 2-3s"},{"x":7770,"y":52.4,"s":"3 - 8756 - 2-3s"}
    ],
    "la": [{"x":7560,"y":71.6,"t":"3"},{"x":7540,"y":63.4,"t":"2"},{"x":7540,"y":15.8,"t":"1"}],
    "lb": [{"x":7550,"y":58.9,"t":"3"},{"x":7550,"y":44,"t":"2"},{"x":7550,"y":28.5,"t":"1"}]
  },
  "hconcat": [
    {
      "width": 501,
      "height": 383,
      "title": {"text": "а", "orient": "bottom", "anchor": "middle", "font": "DejaVu Serif", "fontSize": 25, "fontStyle": "italic", "fontWeight": "normal", "color": "#111", "offset": 9},
      "layer": [
        {
          "data": {"name": "a"},
          "mark": {"type": "line", "strokeWidth": 2.1, "clip": true},
          "encoding": {
            "x": {"field": "x", "type": "quantitative", "scale": {"domain": [470, 7800], "nice": false, "zero": false},
              "axis": {"values": [1000,1500,2000,2500,3000,3500,4000,4500,5000,5500,6000,6500,7000,7500], "format": "d", "labelExpr": "datum.value % 1000 === 0 ? datum.label : ''", "labelOverlap": false, "tickSize": {"condition": {"test": "datum.value % 1000 === 0", "value": -7}, "value": -4}, "labelPadding": 6, "labelFlush": false, "title": "Волновое число, см⁻¹", "titleAnchor": "end", "titlePadding": 13}},
            "y": {"field": "y", "type": "quantitative", "scale": {"domain": [0, 85], "nice": false, "zero": false},
              "axis": {"values": [10,20,30,40,50,60,70,80], "format": "d", "labelOverlap": false, "tickSize": -6, "labelPadding": 9, "title": "Поглощение, %", "titleFontSize": 20.5, "titleAnchor": "end", "titlePadding": 11}},
            "color": {"field": "s", "type": "nominal", "scale": {"range": ["black", "black", "black"]},
              "legend": {"orient": "none", "legendX": 292, "legendY": 154}}
          }
        },
        {
          "data": {"name": "la"},
          "mark": {"type": "text", "font": "DejaVu Serif", "fontSize": 19, "fontStyle": "italic", "fontWeight": "bold", "align": "center", "baseline": "middle", "color": "#111"},
          "encoding": {
            "x": {"field": "x", "type": "quantitative"},
            "y": {"field": "y", "type": "quantitative"},
            "text": {"field": "t"}
          }
        }
      ]
    },
    {
      "width": 527,
      "height": 387,
      "title": {"text": "б", "orient": "bottom", "anchor": "middle", "font": "DejaVu Serif", "fontSize": 24, "fontStyle": "italic", "fontWeight": "normal", "color": "#111", "offset": 4},
      "layer": [
        {
          "data": {"name": "b"},
          "mark": {"type": "line", "strokeWidth": 2.1, "clip": true},
          "encoding": {
            "x": {"field": "x", "type": "quantitative", "scale": {"domain": [490, 7790], "nice": false, "zero": false},
              "axis": {"values": [1000,1500,2000,2500,3000,3500,4000,4500,5000,5500,6000,6500,7000,7500], "format": "d", "labelExpr": "datum.value % 1000 === 0 ? datum.label : ''", "labelOverlap": false, "tickSize": {"condition": {"test": "datum.value % 1000 === 0", "value": -7}, "value": -4}, "labelPadding": 6, "labelFlush": false, "title": "Волновое число, см⁻¹", "titleAnchor": "end", "titlePadding": 13}},
            "y": {"field": "y", "type": "quantitative", "scale": {"domain": [0, 85], "nice": false, "zero": false},
              "axis": {"values": [10,20,30,40,50,60,70,80], "format": "d", "labelOverlap": false, "tickSize": -6, "labelPadding": 9, "title": "Поглощение, %", "titleFontSize": 20.5, "titleAnchor": "end", "titlePadding": 11}},
            "color": {"field": "s", "type": "nominal", "scale": {"range": ["black", "black", "black"]},
              "legend": {"orient": "none", "legendX": 285, "legendY": 282}}
          }
        },
        {
          "data": {"name": "lb"},
          "mark": {"type": "text", "font": "DejaVu Serif", "fontSize": 25, "fontStyle": "normal", "fontWeight": "normal", "align": "center", "baseline": "middle", "color": "#111"},
          "encoding": {
            "x": {"field": "x", "type": "quantitative"},
            "y": {"field": "y", "type": "quantitative"},
            "text": {"field": "t"}
          }
        }
      ]
    }
  ]
}
